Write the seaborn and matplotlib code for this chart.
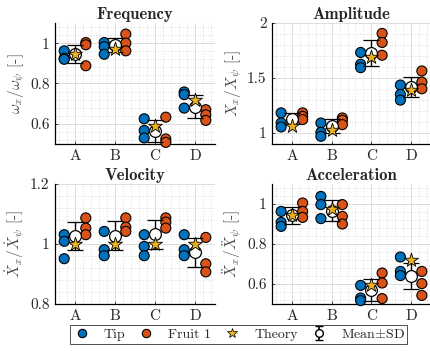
import matplotlib
matplotlib.use("Agg")
import matplotlib.pyplot as plt
from matplotlib.ticker import MultipleLocator, AutoMinorLocator
from matplotlib.lines import Line2D
from matplotlib.legend_handler import HandlerErrorbar
import numpy as np
import pandas as pd
import seaborn as sns

# category labels and the two measured series (3 repeats each)
cases = ["A", "B", "C", "D"]

freq_tip = [[0.962, 0.925, 0.920], [1.003, 0.983, 0.945], [0.625, 0.567, 0.530], [0.758, 0.745, 0.678]]
freq_fruit = [[1.003, 0.992, 0.888], [1.045, 1.000, 0.962], [0.633, 0.525, 0.508], [0.670, 0.645, 0.617]]
freq_theory = [0.945, 0.970, 0.587, 0.720]

amp_tip = [[1.183, 1.091, 1.055], [1.091, 1.006, 0.970], [1.732, 1.625, 1.594], [1.436, 1.351, 1.299]]
amp_fruit = [[1.183, 1.152, 1.122], [1.137, 1.116, 1.076], [1.905, 1.823, 1.707], [1.564, 1.463, 1.402]]
amp_theory = [1.061, 1.030, 1.695, 1.390]

vel_tip = [[1.031, 1.009, 0.951], [1.042, 0.981, 0.961], [1.031, 0.992, 0.961], [1.031, 0.981, 0.961]]
vel_fruit = [[1.087, 1.053, 1.031], [1.087, 1.056, 1.042], [1.087, 1.073, 1.053], [1.022, 0.934, 0.907]]
vel_theory = [1.0, 1.0, 1.0, 1.0]

acc_tip = [[0.963, 0.908, 0.888], [1.038, 0.997, 0.927], [0.593, 0.530, 0.517], [0.735, 0.663, 0.642]]
acc_fruit = [[1.005, 0.963, 0.933], [0.997, 0.938, 0.900], [0.655, 0.605, 0.527], [0.663, 0.602, 0.543]]
acc_theory = [0.947, 0.975, 0.593, 0.722]

panels = [
    ("Frequency", r"$\omega_x/\omega_\psi$ [-]", freq_tip, freq_fruit, freq_theory, (0.5, 1.1), 0.2),
    ("Amplitude", r"$X_x/X_\psi$ [-]", amp_tip, amp_fruit, amp_theory, (0.9, 2.0), 0.5),
    ("Velocity", r"$\dot{X}_x/\dot{X}_\psi$ [-]", vel_tip, vel_fruit, vel_theory, (0.8, 1.2), 0.2),
    ("Acceleration", r"$\ddot{X}_x/\ddot{X}_\psi$ [-]", acc_tip, acc_fruit, acc_theory, (0.5, 1.1), 0.2),
]

BLUE = "#0072BD"
ORANGE = "#D95319"
YELLOW = "#EDB120"
OFFSET = 0.27

sns.set_style("ticks")
plt.rcParams["font.family"] = ["cmr10", "DejaVu Serif"]
plt.rcParams["mathtext.fontset"] = "cm"
plt.rcParams["axes.formatter.use_mathtext"] = True
plt.rcParams["axes.unicode_minus"] = False


def long_frame(tip, fruit):
    rows = []
    for i, case in enumerate(cases):
        for v in tip[i]:
            rows.append({"case": case, "pos": i + 1 - OFFSET, "series": "Tip", "value": v})
        for v in fruit[i]:
            rows.append({"case": case, "pos": i + 1 + OFFSET, "series": "Fruit 1", "value": v})
    return pd.DataFrame(rows)


fig = plt.figure(figsize=(4.3, 3.51), dpi=100)
boxes = [
    [55 / 430, 1 - 144 / 351, 160 / 430, 121 / 351],
    [272 / 430, 1 - 144 / 351, 159 / 430, 121 / 351],
    [55 / 430, 1 - 304 / 351, 160 / 430, 120 / 351],
    [272 / 430, 1 - 304 / 351, 159 / 430, 120 / 351],
]

for box, (title, ylabel, tip, fruit, theory, ylim, major) in zip(boxes, panels):
    ax = fig.add_axes(box)
    df = long_frame(tip, fruit)

    sns.scatterplot(data=df, x="pos", y="value", hue="series",
                    palette={"Tip": BLUE, "Fruit 1": ORANGE},
                    s=52, edgecolor="black", linewidth=0.8, legend=False,
                    ax=ax, zorder=3, clip_on=False)

    stats = df.groupby("case")["value"].agg(["mean", "std"]).reindex(cases)
    centers = np.arange(1, len(cases) + 1)
    ax.errorbar(centers, stats["mean"], yerr=stats["std"], fmt="o",
                color="black", mfc="white", mec="black", ms=8.5, mew=0.9,
                elinewidth=1.0, capsize=6, capthick=1.0, zorder=4)

    sns.scatterplot(x=centers, y=theory, marker="*", s=110, color=YELLOW,
                    edgecolor="black", linewidth=0.6, ax=ax, zorder=5)

    ax.set_xlim(0.5, 4.5)
    ax.set_ylim(*ylim)
    ax.set_xticks(centers)
    ax.set_xticklabels(cases)
    ax.xaxis.set_minor_locator(MultipleLocator(0.2))
    ax.yaxis.set_major_locator(MultipleLocator(major))
    ax.yaxis.set_minor_locator(AutoMinorLocator(5))
    ax.yaxis.set_major_formatter(plt.FuncFormatter(lambda v, p: f"{v:g}"))
    ax.grid(which="major", color="#dcdcdc", lw=0.7, ls="-")
    ax.grid(which="minor", color="#d4d4d4", lw=0.6, ls=(0, (1, 2)))
    ax.set_axisbelow(True)
    ax.tick_params(which="both", direction="in", labelsize=11, colors="#262626",
                   length=2.5, width=0.6, pad=4)
    ax.tick_params(which="minor", length=0)
    sns.despine(ax=ax)
    for s in ("left", "bottom"):
        ax.spines[s].set_linewidth(0.9)
        ax.spines[s].set_color("black")
    ax.set_xlabel("")
    ax.set_ylabel(ylabel, fontsize=11, color="#4d4d4d", labelpad=2)
    ax.set_title(title, fontsize=12, family=["cmb10", "DejaVu Serif"], pad=3)

# legend proxy for the mean +/- SD marker (nan point, never drawn)
mean_proxy = ax.errorbar([np.nan], [np.nan], yerr=[0.1], fmt="o", color="black",
                         mfc="white", mec="black", ms=5.5, mew=1.0, elinewidth=1.2,
                         capsize=3, capthick=1.2)
handles = [
    Line2D([], [], ls="", marker="o", ms=6, mfc=BLUE, mec="black", mew=0.8),
    Line2D([], [], ls="", marker="o", ms=6, mfc=ORANGE, mec="black", mew=0.8),
    Line2D([], [], ls="", marker="*", ms=7, mfc=YELLOW, mec="black", mew=0.5),
    mean_proxy,
]
leg = fig.legend(handles, ["Tip", "Fruit 1", "Theory", r"Mean$\pm$SD"], ncol=4,
                 loc="center", bbox_to_anchor=(0.555, 0.047), frameon=True,
                 fontsize=10, fancybox=False, edgecolor="black", handletextpad=0.9,
                 columnspacing=0.9, borderpad=0.2, handlelength=1.3,
                 handler_map={type(mean_proxy): HandlerErrorbar(yerr_size=0.5)})
leg.get_frame().set_linewidth(0.6)

fig.savefig("out.png", dpi=100)
